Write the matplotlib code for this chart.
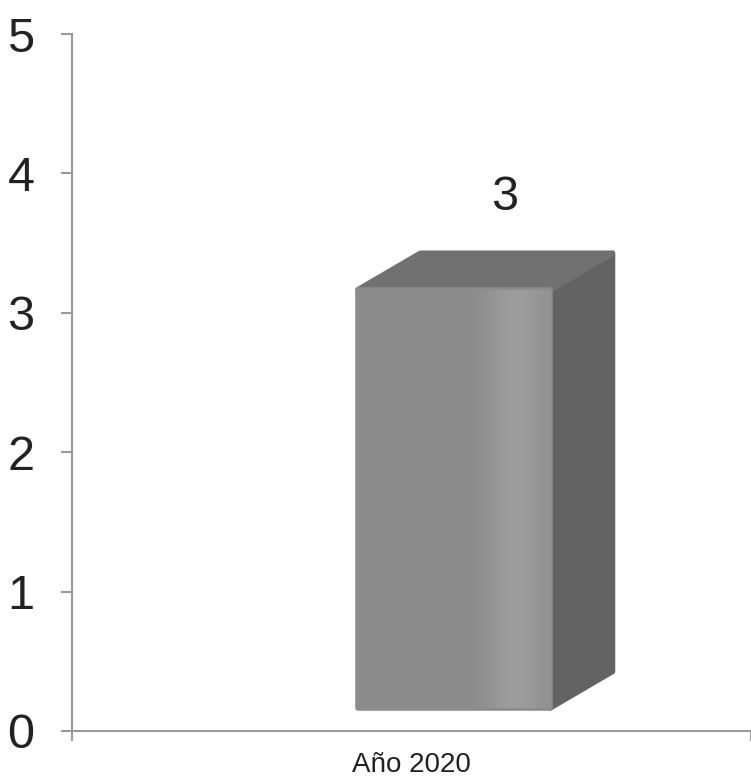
import numpy as np
import matplotlib
matplotlib.use('Agg')
import matplotlib.pyplot as plt
from matplotlib.patches import Polygon

categories = ['Año 2020']
values = [3]
y_ticks = [0, 1, 2, 3, 4, 5]

plt.rcParams['font.family'] = ['Liberation Sans', 'DejaVu Sans']

fig = plt.figure(figsize=(7.51, 7.83), dpi=100)
ax = fig.add_axes([72 / 751, 52 / 783, 679 / 751, 697 / 783])
ax.set_xlim(0, 1)
ax.set_ylim(0, 5)

# fake 3D box
base = 0.165        # floor offset of the front face
width = 0.283
dx, dy = 0.092, 0.262
front_c = 0.5625
axis_c = '#9a9a9a'

for i, v in enumerate(values):
    x0 = front_c - width / 2 + i
    x1 = x0 + width
    top = base + v
    kw = dict(linewidth=4, joinstyle='round', zorder=3)
    # side face
    ax.add_patch(Polygon([[x1, base], [x1 + dx, base + dy], [x1 + dx, top + dy], [x1, top]],
                         closed=True, facecolor='#636363', edgecolor='#636363', **kw))
    # top face
    ax.add_patch(Polygon([[x0, top], [x0 + dx, top + dy], [x1 + dx, top + dy], [x1, top]],
                         closed=True, facecolor='#717171', edgecolor='#717171', **kw))
    # front face
    bars = ax.bar(x0, v, bottom=base, width=width, align='edge',
                  color='#8c8c8c', edgecolor='#8c8c8c', zorder=4)
    for b in bars:
        b.set_joinstyle('round')
        b.set_linewidth(4)
    grad = np.array([[0.0, 0.0, 0.0, 0.0, 0.0, 0.0, 0.0, 0.0, 0.05, 0.2, 0.3, 0.25, 0.1]])
    im = ax.imshow(grad, cmap=matplotlib.colors.LinearSegmentedColormap.from_list(
        'g', ['#8c8c8c', '#9e9e9e']), vmin=0, vmax=0.3, aspect='auto',
        extent=[x0, x1, base, top], zorder=5, interpolation='bicubic')
    im.set_clip_path(bars[0])
    ax.text(x0 + width / 2 + 0.075, top + dy + 0.4, f'{v}', ha='center', va='center',
            fontsize=35, color='#222222', zorder=6)

# axes styling
for s in ['top', 'right']:
    ax.spines[s].set_visible(False)
for s in ['left', 'bottom']:
    ax.spines[s].set_color(axis_c)
    ax.spines[s].set_linewidth(1.5)

ax.set_yticks(y_ticks)
ax.set_yticklabels([str(t) for t in y_ticks])
ax.tick_params(axis='y', length=8, width=1.5, color=axis_c, pad=19,
               labelsize=35, labelcolor='#222222')

ax.set_xticks([0, 1])
ax.set_xticklabels(['', ''])
ax.tick_params(axis='x', which='major', length=7, width=1.5, color=axis_c)
ax.set_xticks([i + 0.5 for i in range(len(categories))], minor=True)
ax.set_xticklabels(categories, minor=True)
ax.tick_params(axis='x', which='minor', length=0, pad=15,
               labelsize=20, labelcolor='#222222')

fig.savefig('out.png', dpi=100, facecolor='white')
